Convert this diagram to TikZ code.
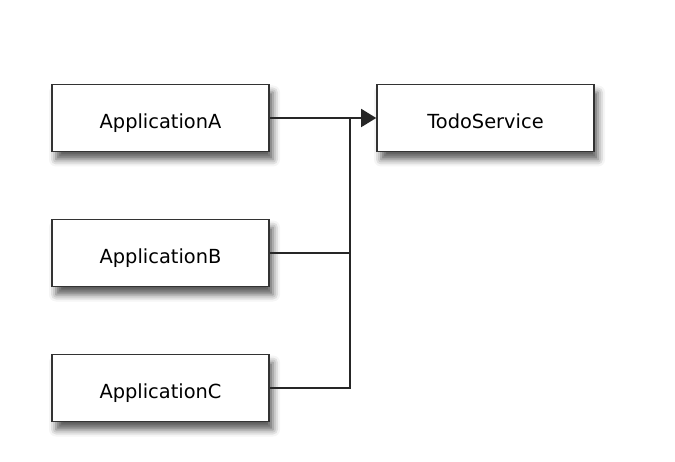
\documentclass[tikz,border=0pt]{standalone}
\usepackage{fontspec}
\setmainfont{DejaVu Sans}
\usetikzlibrary{shadows.blur,arrows.meta}

\begin{document}
\begin{tikzpicture}[x=1pt,y=-1pt,
    appbox/.style={draw=black!80, line width=1.6pt, fill=white,
      minimum width=217pt, minimum height=67pt,
      text height=21pt, text depth=0pt,
      font=\fontsize{19.4}{22}\selectfont,
      blur shadow={shadow xshift=4pt, shadow yshift=-8pt,
        shadow blur radius=7pt, shadow opacity=65}},
    link/.style={draw=black!85, line width=1.6pt}]
    \useasboundingbox (0,0) rectangle (675,462);

    % Boxes
    \node[appbox] (appA) at (160.5,118) {ApplicationA};
    \node[appbox] (appB) at (160.5,253) {ApplicationB};
    \node[appbox] (appC) at (160.5,388) {ApplicationC};
    \node[appbox] (todo) at (485.5,118) {TodoService};

    % join point
    \coordinate (join) at (350,118);

    % Links
    \draw[link, -{Triangle[length=15pt,width=18pt]}] (appA) -- (todo);
    \draw[link] (appB) -| (join);
    \draw[link] (appC) -| (join);
\end{tikzpicture}
\end{document}
